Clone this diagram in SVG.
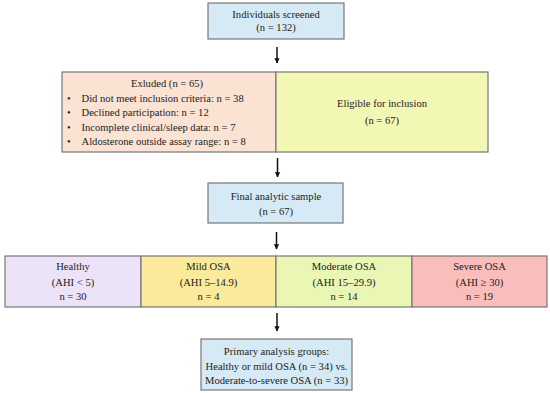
<svg xmlns="http://www.w3.org/2000/svg" width="550" height="393" viewBox="0 0 550 393" font-family="'Liberation Serif', 'Times New Roman', serif">
<defs>
<marker id="ah" viewBox="0 0 10 10" refX="9" refY="5" markerWidth="3.5" markerHeight="4" orient="auto" markerUnits="strokeWidth">
<path d="M0,0 L10,5 L0,10 Z" fill="#111"/>
</marker>
<style>
text{font-family:'Liberation Serif','Times New Roman',serif;font-size:10.6px;fill:#222;}
.c{text-anchor:middle;}
.box{stroke:#777;stroke-width:1.2;}
.blue{fill:#d6eaf5;}
.arr{stroke:#111;stroke-width:1.5;fill:none;marker-end:url(#ah);}
</style>
</defs>
<rect width="550" height="393" fill="#fff"/>

<g id="connectors">
<line class="arr" x1="277" y1="47" x2="277" y2="63"/>
<line class="arr" x1="277.5" y1="158" x2="277.5" y2="177"/>
<line class="arr" x1="276.5" y1="232" x2="276.5" y2="249"/>
<line class="arr" x1="277" y1="313" x2="277" y2="331"/>
</g>

<g id="screened">
<rect class="box blue" x="208" y="3" width="136" height="36"/>
<text class="c" x="276" y="18">Individuals screened</text>
<text class="c" x="276" y="31">(n = 132)</text>
</g>

<g id="excluded">
<rect class="box" x="62" y="72" width="214" height="80" fill="#fbe3d4"/>
<text class="c" x="167" y="87">Exluded (n = 65)</text>
<text x="67" y="101.5">•</text><text x="81.5" y="101.5">Did not meet inclusion criteria: n = 38</text>
<text x="67" y="116">•</text><text x="81.5" y="116">Declined participation: n = 12</text>
<text x="67" y="130.5">•</text><text x="81.5" y="130.5">Incomplete clinical/sleep data: n = 7</text>
<text x="67" y="145">•</text><text x="81.5" y="145">Aldosterone outside assay range: n = 8</text>
</g>

<g id="eligible">
<rect class="box" x="276" y="72" width="212" height="80" fill="#f3f7b4"/>
<text class="c" x="382" y="107">Eligible for inclusion</text>
<text class="c" x="382" y="124">(n = 67)</text>
</g>

<g id="final">
<rect class="box blue" x="208" y="183" width="135" height="40"/>
<text class="c" x="276" y="200">Final analytic sample</text>
<text class="c" x="276" y="215">(n = 67)</text>
</g>

<g id="healthy">
<rect class="box" x="5" y="256" width="136" height="51" fill="#ede3f9"/>
<text class="c" x="73" y="270">Healthy</text>
<text class="c" x="73" y="285.5">(AHI &lt; 5)</text>
<text class="c" x="73" y="300">n = 30</text>
</g>

<g id="mild">
<rect class="box" x="141" y="256" width="135" height="51" fill="#fbea9c"/>
<text class="c" x="208.5" y="270">Mild OSA</text>
<text class="c" x="208.5" y="285.5">(AHI 5–14.9)</text>
<text class="c" x="208.5" y="300">n = 4</text>
</g>

<g id="moderate">
<rect class="box" x="276" y="256" width="136" height="51" fill="#eaf7b4"/>
<text class="c" x="344" y="270">Moderate OSA</text>
<text class="c" x="344" y="285.5">(AHI 15–29.9)</text>
<text class="c" x="344" y="300">n = 14</text>
</g>

<g id="severe">
<rect class="box" x="412" y="256" width="135" height="51" fill="#f9bebb"/>
<text class="c" x="479.5" y="270">Severe OSA</text>
<text class="c" x="479.5" y="285.5">(AHI ≥ 30)</text>
<text class="c" x="479.5" y="300">n = 19</text>
</g>

<g id="primary">
<rect class="box blue" x="201" y="339" width="151" height="51"/>
<text class="c" x="276.5" y="355">Primary analysis groups:</text>
<text class="c" x="276.5" y="369.5">Healthy or mild OSA (n = 34) vs.</text>
<text class="c" x="276.5" y="384">Moderate-to-severe OSA (n = 33)</text>
</g>
</svg>
